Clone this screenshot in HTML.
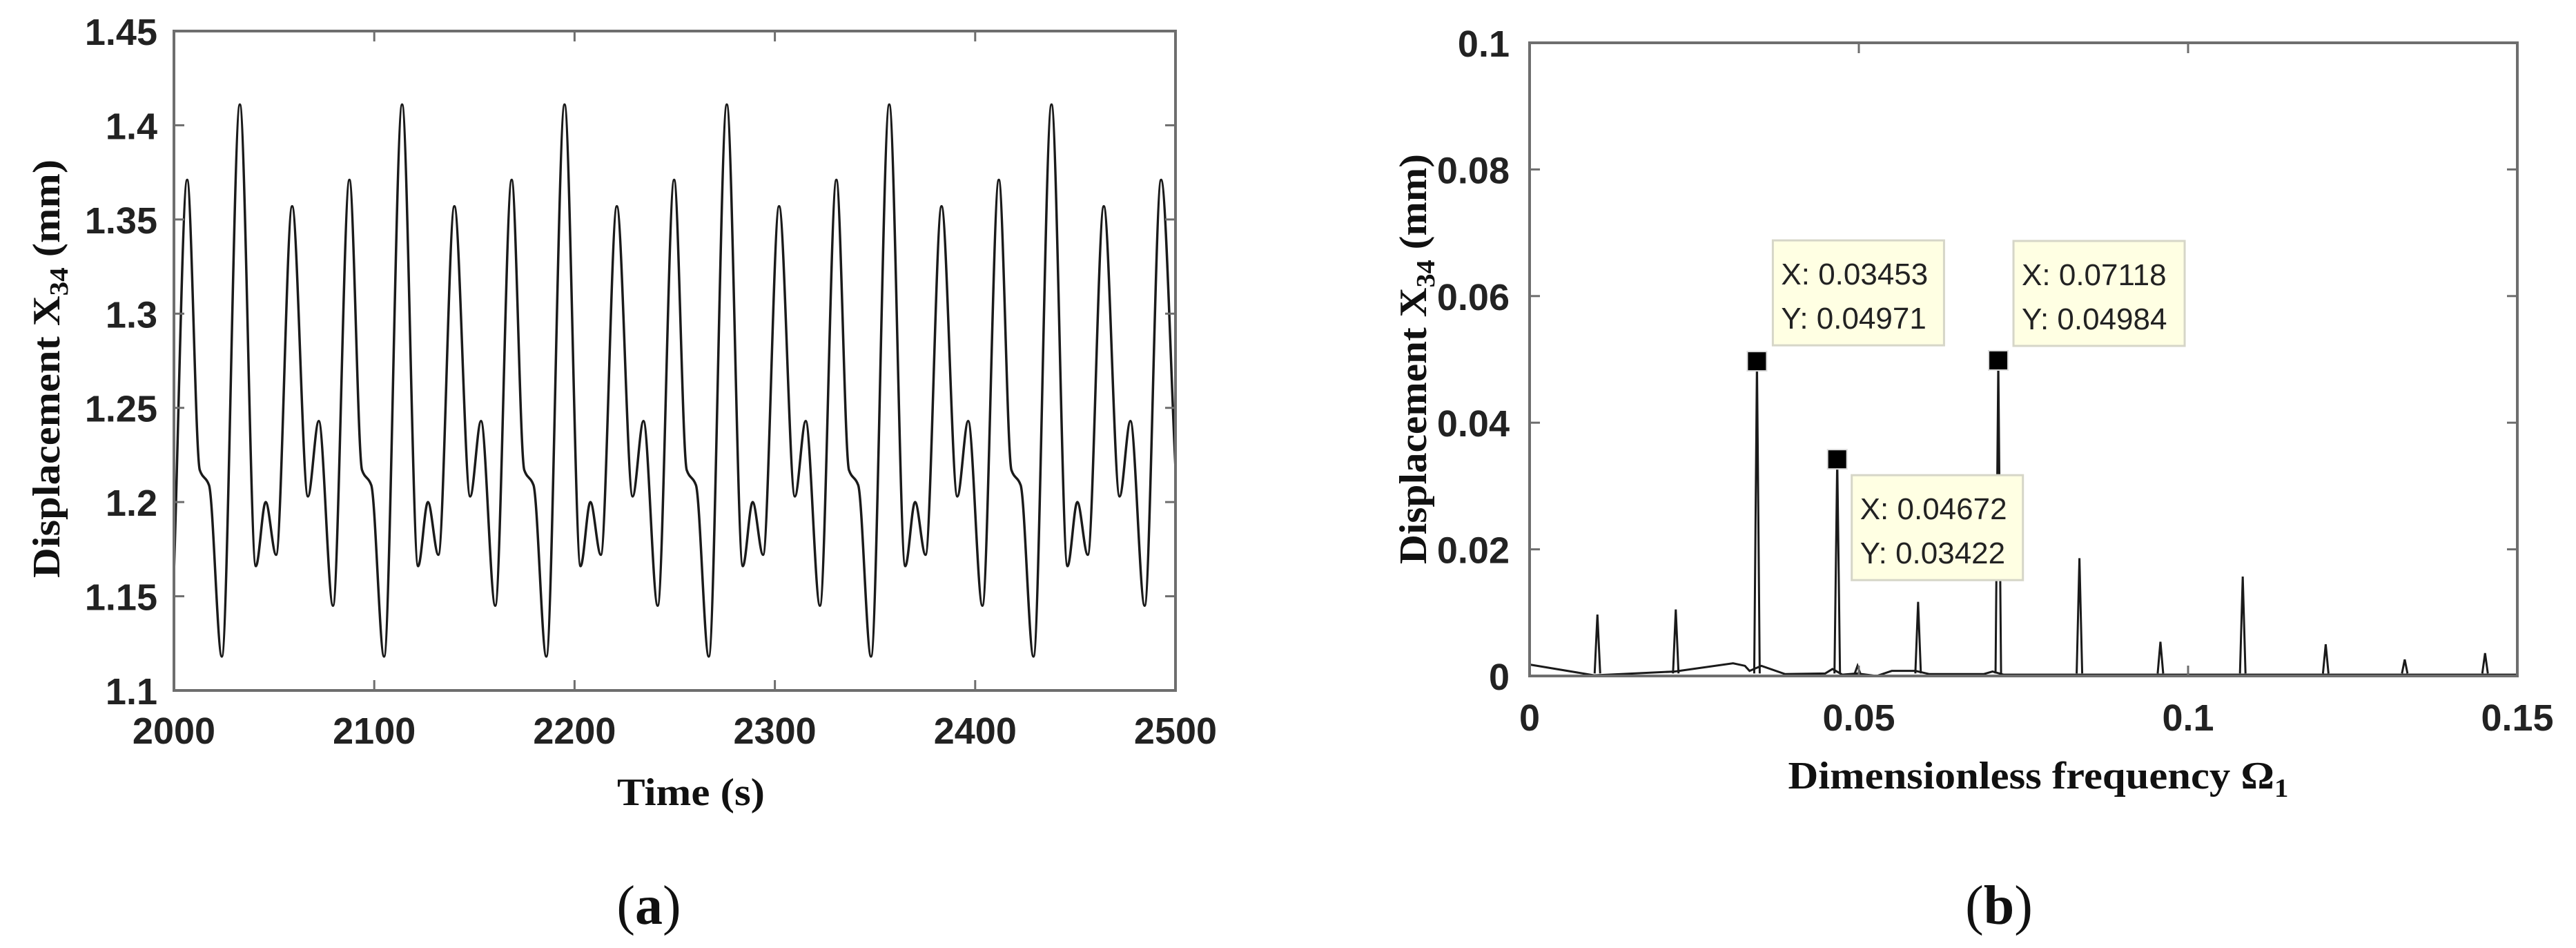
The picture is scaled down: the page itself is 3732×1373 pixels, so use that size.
<!DOCTYPE html>
<html><head><meta charset="utf-8">
<style>
html,body{margin:0;padding:0;background:#fff;}
svg{display:block;}
</style></head>
<body>
<svg id="fig" width="3732" height="1373" viewBox="0 0 3732 1373" xmlns="http://www.w3.org/2000/svg">
<rect x="0" y="0" width="3732" height="1373" fill="#fff"/>
<g id="panelA"></g>
<g id="panelB"></g>
</svg>
<script>
// ---------- Panel (a) data ----------
const timeValues = [2000,2006.6,2012.9,2017.5,2023.9,
 2032.9,2040.9,2045.8,2051.0,2059.0,2066.9,2072.3,2079.4,2087.6,2093.9,2098.5,2104.9,
 2113.9,2121.9,2126.8,2132.0,2140.0,2147.9,2153.3,2160.4,2168.6,2174.9,2179.5,2185.9,
 2195.0,2203.0,2207.9,2213.1,2221.1,2229.0,2234.4,2241.5,2249.7,2256.0,2260.6,2267.0,
 2276.0,2284.0,2288.9,2294.1,2302.1,2310.0,2315.4,2322.5,2330.7,2337.0,2341.6,2348.0,
 2357.1,2365.1,2370.0,2375.2,2383.2,2391.1,2396.5,2403.6,2411.8,2418.1,2422.7,2429.1,
 2438.1,2446.1,2451.0,2456.2,2464.2,2472.1,2477.5,2484.6,2492.8,2500];
const dispValues = [1.163,1.371,1.217,1.209,1.118,
 1.411,1.166,1.200,1.172,1.357,1.203,1.243,1.145,1.371,1.217,1.209,1.118,
 1.411,1.166,1.200,1.172,1.357,1.203,1.243,1.145,1.371,1.217,1.209,1.118,
 1.411,1.166,1.200,1.172,1.357,1.203,1.243,1.145,1.371,1.217,1.209,1.118,
 1.411,1.166,1.200,1.172,1.357,1.203,1.243,1.145,1.371,1.217,1.209,1.118,
 1.411,1.166,1.200,1.172,1.357,1.203,1.243,1.145,1.371,1.217,1.209,1.118,
 1.411,1.166,1.200,1.172,1.357,1.203,1.243,1.145,1.371,1.218];
const aXTicks = [2000,2100,2200,2300,2400,2500];
const aXTickLabels = ["2000","2100","2200","2300","2400","2500"];
const aYTicks = [1.1,1.15,1.2,1.25,1.3,1.35,1.4,1.45];
const aYTickLabels = ["1.1","1.15","1.2","1.25","1.3","1.35","1.4","1.45"];

// ---------- Panel (b) data ----------
const baseFreq = [0,0.0098,0.022,0.0309,0.0327,0.0334,0.0352,0.0388,0.0449,0.046,0.0475,0.0497,0.0527,0.055,0.0586,0.0607,0.069,0.0703,0.072,0.085,0.1,0.12,0.15];
const baseAmp  = [0.0018,0.0001,0.0007,0.002,0.0016,0.0008,0.0016,0.0003,0.0004,0.0011,0.0002,0.0004,0.0,0.0008,0.0008,0.0003,0.0003,0.0007,0.0002,0.0002,0.0002,0.0002,0.0002];
const spikeFreq = [0.0103,0.0222,0.03453,0.04672,0.0498,0.059,0.07118,0.0835,0.0958,0.1083,0.1209,0.1329,0.1451];
const spikeAmp  = [0.0097,0.0105,0.04971,0.03422,0.0016,0.0117,0.04984,0.0186,0.0054,0.0157,0.005,0.0026,0.0036];
const tipX = [0.03453,0.04672,0.07118];
const tipY = [0.04971,0.03422,0.04984];
const tipXLabels = ["X: 0.03453","X: 0.04672","X: 0.07118"];
const tipYLabels = ["Y: 0.04971","Y: 0.03422","Y: 0.04984"];
const bXTicks = [0,0.05,0.1,0.15];
const bXTickLabels = ["0","0.05","0.1","0.15"];
const bYTicks = [0,0.02,0.04,0.06,0.08,0.1];
const bYTickLabels = ["0","0.02","0.04","0.06","0.08","0.1"];

const NS="http://www.w3.org/2000/svg";
function mk(tag, attrs, parent){const e=document.createElementNS(NS,tag);for(const k in attrs)e.setAttribute(k,attrs[k]);parent.appendChild(e);return e;}

const A={l:252,r:1703,t:45,b:1000,x0:2000,x1:2500,y0:1.1,y1:1.45};
const B={l:2216,r:3647,t:62,b:979,x0:0,x1:0.15,y0:0,y1:0.1};
function sx(P,v){return P.l+(v-P.x0)/(P.x1-P.x0)*(P.r-P.l);}
function sy(P,v){return P.b-(v-P.y0)/(P.y1-P.y0)*(P.b-P.t);}

function drawAxes(P,g,xt,xl,yt,yl,xLabY,yLabX,nm){
  const frame=mk('rect',{x:P.l,y:P.t,width:P.r-P.l,height:P.b-P.t,fill:'none',stroke:'#6e6e6e','stroke-width':4},g);
  
  
  xt.forEach((v,i)=>{
    const x=sx(P,v);
    const t1=mk('line',{x1:x,y1:P.b,x2:x,y2:P.b-15,stroke:'#6e6e6e','stroke-width':3},g);
    
    
    const t2=mk('line',{x1:x,y1:P.t,x2:x,y2:P.t+15,stroke:'#6e6e6e','stroke-width':3},g);
    
    
    const tx=mk('text',{x:x,y:xLabY,'text-anchor':'middle','font-family':'Liberation Sans, Arial, sans-serif','font-weight':'bold','font-size':54,fill:'#222'},g);
    tx.textContent=xl[i];
    
    
  });
  yt.forEach((v,i)=>{
    const y=sy(P,v);
    const t1=mk('line',{x1:P.l,y1:y,x2:P.l+15,y2:y,stroke:'#6e6e6e','stroke-width':3},g);
    
    
    const t2=mk('line',{x1:P.r,y1:y,x2:P.r-15,y2:y,stroke:'#6e6e6e','stroke-width':3},g);
    
    
    const tx=mk('text',{x:yLabX,y:y+20,'text-anchor':'end','font-family':'Liberation Sans, Arial, sans-serif','font-weight':'bold','font-size':54,fill:'#222'},g);
    tx.textContent=yl[i];
    
    
  });
}

function monotonePath(xs,ys){
  const n=xs.length,d=[],m=new Array(n);
  for(let i=0;i<n-1;i++)d.push((ys[i+1]-ys[i])/(xs[i+1]-xs[i]));
  m[0]=d[0];m[n-1]=d[n-2];
  for(let i=1;i<n-1;i++){ if(d[i-1]*d[i]<=0)m[i]=0; else {const w1=2*(xs[i+1]-xs[i])+(xs[i]-xs[i-1]),w2=(xs[i+1]-xs[i])+2*(xs[i]-xs[i-1]);m[i]=(w1+w2)/(w1/d[i-1]+w2/d[i]);} }
  let p='M'+xs[0].toFixed(2)+','+ys[0].toFixed(2);
  for(let i=0;i<n-1;i++){const h=(xs[i+1]-xs[i])/3;
    p+=' C'+(xs[i]+h).toFixed(2)+','+(ys[i]+m[i]*h).toFixed(2)+' '+(xs[i+1]-h).toFixed(2)+','+(ys[i+1]-m[i+1]*h).toFixed(2)+' '+xs[i+1].toFixed(2)+','+ys[i+1].toFixed(2);}
  return p;
}

// ---------- Panel (a) ----------
const gA=document.getElementById('panelA');
{
  const xs=timeValues.map(v=>sx(A,v)), ys=dispValues.map(v=>sy(A,v));
  const ln=mk('path',{d:monotonePath(xs,ys),fill:'none',stroke:'#1a1a1a','stroke-width':3.5,'stroke-linejoin':'round'},gA);
  
  
}
drawAxes(A,gA,aXTicks,aXTickLabels,aYTicks,aYTickLabels,1077,228,'panel-a');
{
  const yt=mk('text',{transform:'translate(86,534) rotate(-90)','text-anchor':'middle','font-family':'Liberation Serif, Times New Roman, serif','font-weight':'bold','font-size':56,fill:'#111',textLength:606,lengthAdjust:'spacingAndGlyphs'},gA);
  yt.innerHTML='Displacement X<tspan font-size="38" dy="12">34</tspan><tspan dy="-12"> (mm)</tspan>';
  
  
  const xt=mk('text',{x:1001,y:1166,'text-anchor':'middle','font-family':'Liberation Serif, Times New Roman, serif','font-weight':'bold','font-size':56,fill:'#111',textLength:214,lengthAdjust:'spacingAndGlyphs'},gA);
  xt.textContent='Time (s)';
  
  
  const cap=mk('text',{x:940,y:1338,'text-anchor':'middle','font-family':'Liberation Serif, Times New Roman, serif','font-size':80,fill:'#111'},gA);
  cap.innerHTML='(<tspan font-weight="bold">a</tspan>)';
  
  
}

// ---------- Panel (b) ----------
const gB=document.getElementById('panelB');
{
  const xs=baseFreq.map(v=>sx(B,v)), ys=baseAmp.map(v=>sy(B,v));
  let d='M'+xs[0]+','+ys[0];for(let i=1;i<xs.length;i++)d+=' L'+xs[i].toFixed(2)+','+ys[i].toFixed(2);
  const bl=mk('path',{d:d,fill:'none',stroke:'#1a1a1a','stroke-width':3},gB);
  
  
  spikeFreq.forEach((f,i)=>{
    const x=sx(B,f);
    const s=mk('path',{d:'M'+(x-4)+','+sy(B,0.0004)+' L'+x+','+sy(B,spikeAmp[i])+' L'+(x+4)+','+sy(B,0.0004),fill:'none',stroke:'#1a1a1a','stroke-width':3},gB);
    
    
  });
}
drawAxes(B,gB,bXTicks,bXTickLabels,bYTicks,bYTickLabels,1058,2187,'panel-b');
{
  const boxOff=[[23,-175],[21,23],[22,-173]];
  tipX.forEach((xv,i)=>{
    const x=sx(B,xv),y=sy(B,tipY[i]);
    const m=mk('rect',{x:x-14,y:y-14,width:28,height:28,fill:'#000',stroke:'#ddd','stroke-width':2},gB);
    
    
    const bx=x+boxOff[i][0], by=y+boxOff[i][1];
    const r=mk('rect',{x:bx,y:by,width:248,height:152,fill:'#ffffe3',stroke:'#d6d6c8','stroke-width':3},gB);
    
    
    const t1=mk('text',{x:bx+12,y:by+64,'font-family':'Liberation Sans, Arial, sans-serif','font-size':44,fill:'#222'},gB);
    t1.textContent=tipXLabels[i];
    
    
    const t2=mk('text',{x:bx+12,y:by+128,'font-family':'Liberation Sans, Arial, sans-serif','font-size':44,fill:'#222'},gB);
    t2.textContent=tipYLabels[i];
    
    
  });
  const yt=mk('text',{transform:'translate(2066,520) rotate(-90)','text-anchor':'middle','font-family':'Liberation Serif, Times New Roman, serif','font-weight':'bold','font-size':56,fill:'#111',textLength:594,lengthAdjust:'spacingAndGlyphs'},gB);
  yt.innerHTML='Displacement X<tspan font-size="38" dy="12">34</tspan><tspan dy="-12"> (mm)</tspan>';
  
  
  const xt=mk('text',{x:2953,y:1142,'text-anchor':'middle','font-family':'Liberation Serif, Times New Roman, serif','font-weight':'bold','font-size':56,fill:'#111',textLength:725,lengthAdjust:'spacingAndGlyphs'},gB);
  xt.innerHTML='Dimensionless frequency Ω<tspan font-size="38" dy="12">1</tspan>';
  
  
  const cap=mk('text',{x:2896,y:1338,'text-anchor':'middle','font-family':'Liberation Serif, Times New Roman, serif','font-size':80,fill:'#111'},gB);
  cap.innerHTML='(<tspan font-weight="bold">b</tspan>)';
  
  
}
</script>
</body></html>
